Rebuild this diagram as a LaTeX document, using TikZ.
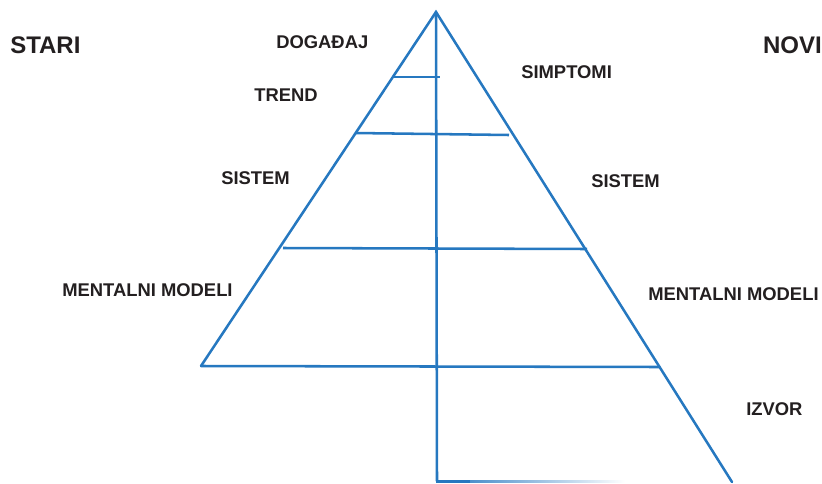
\documentclass[tikz,border=0pt]{standalone}
\usepackage{fontspec}
\setmainfont{Liberation Sans}
\definecolor{lineblue}{RGB}{38,120,192}
\definecolor{ink}{RGB}{35,31,32}
\begin{document}
\begin{tikzpicture}[x=0.75pt,y=-0.75pt,
  edge/.style={draw=lineblue,line width=1.9pt,line cap=round},
  level/.style={draw=lineblue,line width=1.9pt},
  lbl/.style={font=\bfseries\fontsize{13.8}{15}\selectfont,text=ink,inner sep=0pt},
  head/.style={font=\bfseries\fontsize{18}{20}\selectfont,text=ink,inner sep=0pt}]
\useasboundingbox (0,0) rectangle (822,483);

% frame of the pyramid
\coordinate (apex) at (436,12);
\coordinate (bl) at (201,366);
\coordinate (br) at (732,482);
\coordinate (axisend) at (437,481);
\coordinate (l1a) at (394,77);  \coordinate (l1b) at (440,77);
\coordinate (l2a) at (355,133); \coordinate (l2b) at (509,135);
\coordinate (l3a) at (283,248); \coordinate (l3b) at (587,249);
\coordinate (l4b) at (660,367);

\draw[edge] (bl) -- (apex) -- (br);
\draw[edge] (apex) -- (axisend);
\draw[level] (l1a) -- (l1b);
\draw[level] (l2a) -- (l2b);
\draw[level] (l3a) -- (l3b);
\draw[level] (bl) -- (l4b);
% fading base line
\shade[left color=lineblue,right color=white] (436,480) rectangle (625,482.6);
\fill[lineblue] (436,480) rectangle (470,482.6);

% headings
\node[head,anchor=west] (stari) at (10,45) {STARI};
\node[head,anchor=east] (novi) at (822,45) {NOVI};

% levels, left side
\node[lbl,anchor=west] (dogadjaj) at (276,42) {DOGAĐAJ};
\node[lbl,anchor=west] (trend) at (254,95) {TREND};
\node[lbl,anchor=west] (sistemL) at (221,178) {SISTEM};
\node[lbl,anchor=west] (mentalL) at (62,290) {MENTALNI MODELI};

% levels, right side
\node[lbl,anchor=west] (simptomi) at (521,72) {SIMPTOMI};
\node[lbl,anchor=west] (sistemR) at (591,181) {SISTEM};
\node[lbl,anchor=west] (mentalR) at (648,294) {MENTALNI MODELI};
\node[lbl,anchor=west] (izvor) at (746,409) {IZVOR};
\end{tikzpicture}
\end{document}
